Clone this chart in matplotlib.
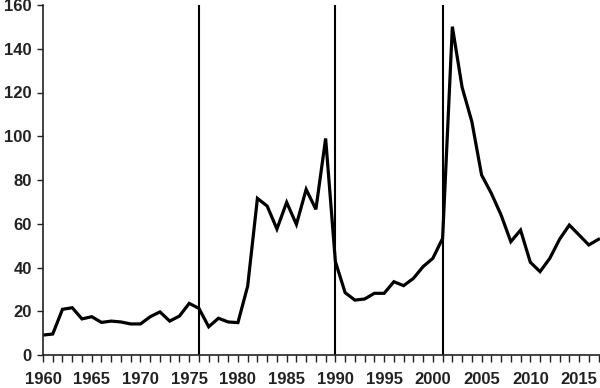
import matplotlib
matplotlib.use("Agg")
import matplotlib.pyplot as plt

years = list(range(1960, 2018))
values = [9.1, 9.6, 20.9, 21.6, 16.5, 17.5, 14.9, 15.5, 15.1, 14.2,
          14.2, 17.5, 19.7, 15.5, 17.8, 23.6, 21.3, 12.9, 16.8, 15.1,
          14.8, 31.5, 71.6, 68.1, 57.6, 69.8, 59.7, 75.7, 66.6, 99.0,
          42.7, 28.5, 25.1, 25.6, 28.2, 28.2, 33.5, 31.7, 35.0, 40.4,
          44.2, 53.3, 150.1, 122.4, 106.7, 82.3, 73.9, 64.0, 51.8, 57.1,
          42.4, 38.1, 44.2, 52.9, 59.4, 54.9, 50.3, 52.9]
break_years = [1976, 1990, 2001]

plt.rcParams['font.family'] = ['Liberation Sans', 'DejaVu Sans']

fig = plt.figure(figsize=(6, 3.88), dpi=100)
ax = fig.add_axes([43 / 600, 33 / 388, 557 / 600, 350 / 388])

for yr in break_years:
    ax.axvline(yr, color='black', linewidth=1.5)
ax.plot(years, values, color='black', linewidth=2.3, solid_joinstyle='miter')

ax.set_xlim(1960, 2017.15)
ax.set_ylim(0, 160)
ax.set_xticks(range(1960, 2018, 5))
ax.set_xticks(range(1960, 2018), minor=True)
ax.set_yticks(range(0, 161, 20))

for side in ['top', 'right']:
    ax.spines[side].set_visible(False)
for side in ['left', 'bottom']:
    ax.spines[side].set_linewidth(1.2)
    ax.spines[side].set_color('#222222')

ax.tick_params(axis='x', which='both', direction='out', length=5, width=1,
               color='#222222')
ax.tick_params(axis='x', which='major', pad=7)
ax.tick_params(axis='y', direction='out', length=4, width=1, color='#222222',
               pad=4)
for lab in ax.get_xticklabels() + ax.get_yticklabels():
    lab.set_fontsize(12)
    lab.set_fontweight('bold')
    lab.set_color('#222222')

fig.savefig('out.png', dpi=100)
